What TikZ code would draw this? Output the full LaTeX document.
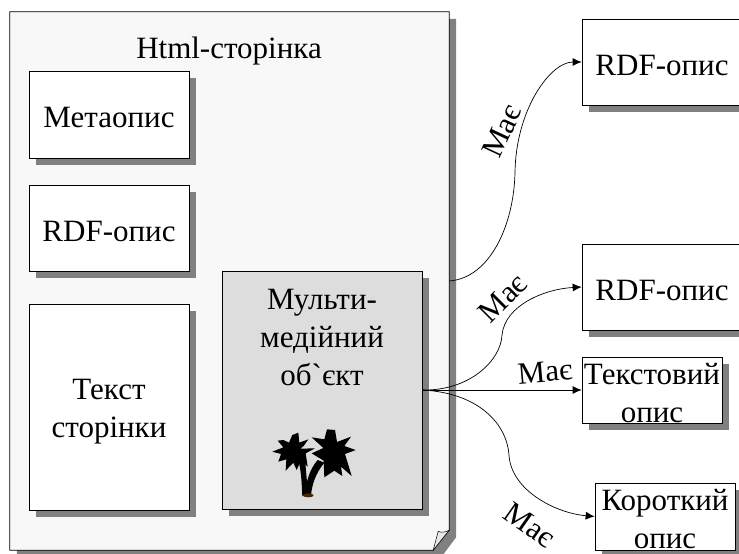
\documentclass[tikz,border=0pt]{standalone}
\usepackage{fontspec}
\newfontfamily\diagfont{Liberation Serif}
\usetikzlibrary{arrows.meta, shadows, calc}
\definecolor{pagefill}{HTML}{F8F8F8}
\definecolor{mediafill}{HTML}{DDDDDD}
\definecolor{shadowgray}{HTML}{808080}
\newcommand{\lift}[1]{\rule{0pt}{#1pt}}

\begin{document}
\begin{tikzpicture}[x=1pt, y=-1pt,
        every node/.style={font=\diagfont\fontsize{31}{38}\selectfont},
        card/.style={draw, line width=0.7pt, fill=white, minimum width=160pt, inner sep=0pt, align=center,
                     general shadow={shadow xshift=7pt, shadow yshift=-7pt, fill=shadowgray}},
        lines/.style={inner sep=0pt, align=center},
        arr/.style={-{Latex[length=9pt, width=8pt]}, line width=0.7pt},
        has/.style={inner sep=0pt}
    ]
        \clip[use as bounding box] (0,0) rectangle (739,554);

        % page with the turned corner
        \node[minimum width=439pt, minimum height=538pt, inner sep=0pt] (page) at (229.5,281) {};
        \fill[shadowgray] ($(page.north west)+(7,7)$) -- ($(page.north east)+(7,7)$)
            -- ($(page.south east)+(7,-13)$) -- ($(page.south east)+(-8,7)$)
            -- ($(page.south west)+(7,7)$) -- cycle;
        \draw[line width=0.7pt, fill=pagefill] (page.north west) -- (page.north east)
            -- ($(page.south east)+(0,-20)$) -- ($(page.south east)+(-16,0)$)
            -- (page.south west) -- cycle;
        \draw[line width=0.5pt, fill=mediafill!70!white] ($(page.south east)+(-16,0)$)
            -- ($(page.south east)+(-11,-19)$) .. controls ($(page.south east)+(-8,-17)$) and ($(page.south east)+(-4,-18)$) .. ($(page.south east)+(0,-20)$) -- cycle;
        \node (title) at (229,51) {Html-сторінка};

        \node[card, minimum height=87pt] (meta) at (109,114.5) {\lift{27}Метаопис};
        \node[card, minimum height=86pt] (rdfin) at (109,228) {\lift{27}RDF-опис};
        \node[card, minimum height=206pt] (body) at (109,407) {\lift{29}Текст\\сторінки};
        \node[card, fill=mediafill, minimum width=200pt, minimum height=238pt] (media) at (322,390) {};
        \node[lines] (mediatext) at (322,337) {Мульти-\\медійний\\об{`}єкт};

        % palm trees
        \begin{scope}[shift={(265,420)}, scale=1/3]
            \fill (100,120) .. controls (110,160) and (110,195) .. (112,228) -- (130,228)
                .. controls (126,190) and (124,160) .. (120,120) -- cycle;
            \fill (158,120) .. controls (132,150) and (122,190) .. (120,228) -- (138,228)
                .. controls (140,195) and (152,160) .. (178,128) -- cycle;
            \fill[black!70!orange] (130,226) ellipse (16 and 6);
            \fill (22,95) -- (55,82) -- (38,62) -- (55,60) -- (72,68) -- (82,45) -- (100,38) -- (103,68)
                -- (130,58) -- (116,78) -- (106,86) -- (150,85) -- (122,100) -- (128,140) -- (108,122)
                -- (95,150) -- (85,128) -- (62,152) -- (64,118) -- (40,125) -- (48,102) -- cycle;
            \fill (140,52) -- (178,58) -- (186,28) -- (210,30) -- (216,66) -- (258,50) -- (238,78)
                -- (272,90) -- (240,102) -- (260,168) -- (228,140) -- (232,168) -- (208,152)
                -- (178,172) -- (176,122) -- (140,100) -- (175,84) -- cycle;
        \end{scope}

        \node[card, minimum height=86pt] (rdfa) at (662,62) {\lift{27}RDF-опис};
        \node[card, minimum height=86pt] (rdfb) at (662,287) {\lift{27}RDF-опис};
        \node[card, minimum width=140pt, minimum height=66pt] (textdesc) at (652,390) {};
        \node[lines] (textdesctext) at (652,393) {Текстовий\\опис};
        \node[card, minimum width=140pt, minimum height=67pt] (shortdesc) at (665,516.5) {};
        \node[lines] (shortdesctext) at (665,519) {Короткий\\опис};

        \draw[arr] (page.east) .. controls (490,278) and (514,225) .. (515,172)
            .. controls (516,110) and (550,62) .. (rdfa.west);
        \draw[arr] (media.east) .. controls (470,391) and (501,360) .. (502,335)
            .. controls (505,305) and (545,289) .. (rdfb.west);
        \draw[arr] (media.east) -- (textdesc.west);
        \draw[arr] (media.east) .. controls (480,393) and (507,425) .. (509,455)
            .. controls (511,490) and (555,513) .. (shortdesc.west);

        \node[has, rotate=65] (hasa) at (502,131) {Має};
        \node[has, rotate=45] (hasb) at (503,298) {Має};
        \node[has, rotate=5] (hasc) at (545,372) {Має};
        \node[has, rotate=-35] (hasd) at (530,525) {Має};
    \end{tikzpicture}
\end{document}
